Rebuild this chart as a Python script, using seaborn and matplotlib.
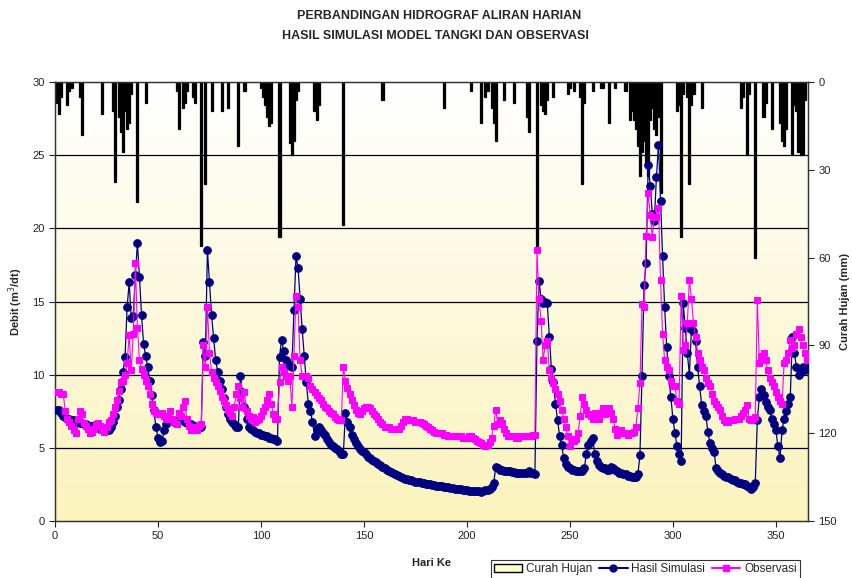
import numpy as np
import pandas as pd
import matplotlib
matplotlib.use("Agg")
import matplotlib.pyplot as plt
from matplotlib.patches import Patch
from matplotlib.lines import Line2D
from matplotlib.colors import LinearSegmentedColormap
import seaborn as sns

# --- values (day 1..365) ---
sim = [
    7.6, 7.6, 7.4, 7.2, 7.1, 7.0, 7.0, 6.9, 6.9, 6.8,
    6.8, 6.7, 6.7, 6.6, 6.6, 6.5, 6.5, 6.5, 6.4, 6.4,
    6.4, 6.3, 6.3, 6.3, 6.2, 6.2, 6.4, 6.8, 7.2, 7.8,
    8.3, 9.0, 10.2, 11.2, 14.6, 16.3, 13.9, 14.0, 16.8, 19.0,
    16.7, 14.1, 12.1, 11.3, 10.5, 9.6, 8.6, 7.6, 6.4, 5.7,
    5.4, 5.5, 6.2, 6.6, 6.9, 7.0, 6.9, 6.8, 6.8, 6.9,
    7.0, 6.9, 6.8, 6.7, 6.6, 6.6, 6.5, 6.5, 6.4, 6.4,
    6.4, 12.2, 11.3, 18.5, 16.3, 14.1, 12.5, 11.0, 10.2, 9.6,
    9.0, 8.4, 7.8, 7.3, 7.0, 6.8, 6.6, 6.4, 6.4, 9.9,
    8.8, 7.8, 7.0, 6.4, 6.3, 6.2, 6.1, 6.0, 6.0, 5.9,
    5.9, 5.8, 5.8, 5.7, 5.7, 5.6, 5.6, 5.5, 11.2, 12.4,
    11.6, 11.0, 10.7, 10.6, 10.5, 14.4, 18.1, 17.3, 15.2, 13.1,
    11.3, 9.5, 8.0, 7.5, 6.8, 5.8, 6.3, 6.4, 6.2, 6.0,
    5.9, 5.6, 5.4, 5.2, 5.1, 5.0, 4.9, 4.8, 4.6, 4.6,
    7.4, 6.8, 6.4, 5.9, 5.6, 5.3, 5.1, 4.9, 4.8, 4.7,
    4.6, 4.4, 4.3, 4.2, 4.1, 4.0, 3.9, 3.8, 3.7, 3.6,
    3.5, 3.4, 3.35, 3.3, 3.2, 3.15, 3.1, 3.0, 2.95, 2.9,
    2.85, 2.8, 2.78, 2.75, 2.7, 2.67, 2.64, 2.6, 2.57, 2.54,
    2.52, 2.5, 2.47, 2.45, 2.42, 2.4, 2.38, 2.36, 2.34, 2.32,
    2.3, 2.28, 2.25, 2.22, 2.2, 2.18, 2.16, 2.14, 2.12, 2.1,
    2.08, 2.06, 2.05, 2.04, 2.03, 2.02, 2.0, 2.05, 2.1, 2.15,
    2.2, 2.3, 2.6, 3.7, 3.6, 3.5, 3.5, 3.45, 3.4, 3.4,
    3.4, 3.35, 3.35, 3.3, 3.3, 3.3, 3.3, 3.25, 3.3, 3.4,
    3.3, 3.25, 3.2, 12.3, 16.4, 15.2, 14.9, 15.0, 14.9, 12.6,
    10.4, 9.5, 8.0, 6.9, 5.8, 5.2, 4.3, 3.9, 3.7, 3.6,
    3.5, 3.5, 3.4, 3.4, 3.4, 3.4, 3.6, 4.6, 5.2, 5.5,
    5.7, 4.6, 4.1, 3.8, 3.7, 3.6, 3.6, 3.5, 3.5, 3.7,
    3.6, 3.5, 3.4, 3.3, 3.3, 3.2, 3.2, 3.1, 3.1, 3.0,
    3.0, 3.0, 3.2, 4.5, 9.9, 16.1, 17.6, 24.3, 22.9, 21.0,
    20.5, 23.5, 25.7, 21.9, 18.1, 14.6, 11.9, 9.9, 8.5, 7.0,
    6.0, 5.1, 4.6, 4.1, 14.9, 13.2, 11.5, 10.0, 13.1, 13.0,
    12.3, 10.5, 9.2, 7.9, 7.5, 7.2, 6.1, 5.3, 5.0, 4.7,
    3.6, 3.4, 3.3, 3.2, 3.1, 3.0, 3.0, 2.9, 2.8, 2.8,
    2.7, 2.6, 2.6, 2.5, 2.5, 2.4, 2.3, 2.2, 2.3, 2.6,
    6.9, 8.5, 9.0, 8.6, 8.1, 7.8, 7.6, 7.0, 6.6, 6.2,
    5.1, 4.3, 6.2, 7.0, 7.5, 8.0, 8.5, 12.6, 11.5, 10.5,
    10.0, 10.2, 10.5, 10.3, 10.6,
]

obs = [
    8.8, 8.8, 8.7, 8.7, 7.5, 7.0, 6.8, 6.5, 6.2, 6.0,
    7.0, 7.5, 7.3, 6.7, 6.5, 6.3, 6.0, 6.1, 6.3, 6.6,
    6.7, 6.5, 6.2, 6.1, 6.4, 6.8, 6.9, 7.3, 7.8, 8.3,
    8.9, 9.5, 9.6, 10.0, 10.8, 12.7, 10.3, 12.8, 17.6, 13.2,
    11.0, 10.4, 10.0, 9.6, 9.2, 8.7, 8.0, 7.5, 7.4, 7.3,
    7.3, 7.4, 7.2, 7.0, 7.2, 7.5, 7.0, 6.8, 6.6, 7.4,
    7.2, 7.8, 8.2, 7.0, 6.5, 6.2, 6.4, 6.3, 6.2, 6.5,
    6.6, 12.0, 10.5, 14.6, 11.5, 10.2, 9.8, 9.5, 9.2, 8.9,
    8.5, 8.2, 7.9, 7.6, 7.4, 7.2, 7.8, 8.7, 9.2, 8.4,
    7.8, 8.8, 7.5, 7.2, 7.0, 7.1, 6.8, 6.9, 7.0, 7.2,
    7.5, 7.8, 8.3, 8.7, 8.0, 7.3, 7.0, 7.0, 9.5, 10.5,
    10.2, 9.9, 9.6, 9.9, 7.8, 11.3, 15.4, 14.6, 11.0, 9.9,
    9.9, 9.9, 9.8, 9.2, 9.0, 8.8, 8.6, 8.4, 8.3, 8.0,
    7.8, 7.7, 7.5, 7.4, 7.3, 7.1, 7.0, 6.9, 6.9, 10.5,
    9.6, 9.1, 8.7, 8.3, 7.9, 7.6, 7.4, 7.3, 7.5, 7.7,
    7.8, 7.8, 7.7, 7.5, 7.3, 7.2, 7.0, 6.8, 6.6, 6.4,
    6.4, 6.4, 6.3, 6.3, 6.3, 6.3, 6.3, 6.5, 6.8, 7.0,
    7.0, 6.9, 6.9, 6.9, 6.8, 6.8, 6.8, 6.7, 6.6, 6.5,
    6.4, 6.3, 6.2, 6.1, 6.0, 6.0, 6.0, 6.0, 5.9, 5.9,
    5.8, 5.8, 5.8, 5.8, 5.8, 5.8, 5.8, 5.7, 5.7, 5.7,
    5.8, 5.8, 5.7, 5.6, 5.5, 5.4, 5.3, 5.2, 5.1, 5.2,
    5.4, 5.7, 6.5, 7.6, 6.6, 6.9, 6.7, 6.3, 6.0, 5.8,
    5.8, 5.8, 5.8, 5.7, 5.7, 5.8, 5.8, 5.8, 5.8, 5.8,
    5.8, 5.9, 5.9, 18.5, 15.2, 13.7, 11.0, 12.0, 12.3, 10.3,
    9.8, 9.4, 9.0, 8.7, 8.2, 7.6, 7.0, 6.4, 5.8, 5.1,
    5.6, 5.5, 5.6, 6.0, 7.2, 8.5, 8.0, 7.6, 7.3, 7.2,
    7.0, 7.4, 7.2, 7.0, 7.4, 7.7, 7.3, 7.5, 7.7, 7.4,
    7.0, 6.3, 5.9, 6.0, 6.2, 6.0, 6.0, 5.9, 6.0, 6.0,
    6.1, 6.4, 7.7, 9.4, 14.8, 14.6, 19.5, 22.4, 20.9, 19.4,
    20.8, 20.8, 21.4, 16.5, 12.8, 11.0, 10.5, 10.3, 9.6, 9.2,
    9.2, 8.2, 8.0, 15.4, 11.7, 12.0, 13.5, 16.5, 15.2, 13.5,
    12.6, 11.5, 11.0, 10.5, 10.3, 9.8, 9.4, 9.2, 8.7, 8.2,
    8.0, 7.8, 7.6, 7.2, 6.9, 6.8, 6.8, 6.9, 6.9, 7.0,
    7.0, 7.0, 7.2, 7.4, 7.6, 7.9, 7.0, 6.9, 7.0, 7.1,
    15.1, 10.8, 11.3, 11.5, 11.0, 10.3, 9.8, 9.5, 9.2, 8.8,
    8.5, 8.2, 8.0, 10.8, 11.0, 11.5, 12.4, 11.8, 12.0, 12.8,
    13.1, 12.6, 12.0, 11.5, 11.0,
]

# rainfall (mm), only days with rain
rain_days = [1, 2, 3, 6, 7, 8, 12, 13, 23, 28, 29, 31, 32, 33, 34, 35, 36, 37,
             40, 44, 59, 60, 62, 63, 64, 67, 68, 71, 73, 76, 81, 84, 89, 92,
             100, 101, 102, 103, 104, 105, 109, 114, 115, 116, 117, 118,
             126, 127, 128, 140, 159, 189, 202, 207, 209, 210, 212, 213, 214,
             218, 223, 229, 230, 234, 236, 237, 238, 239, 242, 249, 250, 252,
             255, 256, 257, 261, 265, 266, 269, 272, 277,
             279, 280, 281, 282, 283, 284, 285, 286, 287, 288, 289, 290, 291,
             292, 293, 294, 302, 303, 304, 305, 307, 308, 309, 310, 314,
             333, 334, 336, 337, 340, 344, 345, 348, 352, 353, 354, 355,
             358, 359, 360, 361, 362, 363, 364]
rain_mm = [7, 11, 5, 8, 3, 2, 5, 18, 11, 10, 34, 12, 17, 24, 10, 16, 14, 4,
           41, 7, 3, 16, 9, 7, 3, 5, 7, 56, 35, 10, 10, 9, 22, 3,
           2, 5, 8, 12, 15, 14, 53, 21, 25, 20, 6, 3,
           10, 13, 8, 49, 6, 9, 3, 14, 5, 3, 9, 14, 20,
           6, 7, 12, 17, 56, 8, 10, 11, 6, 5, 4, 2, 3,
           5, 35, 7, 3, 2, 2, 14, 2, 3,
           13, 10, 13, 16, 22, 32, 24, 20, 28, 32, 13, 9, 16,
           18, 12, 38, 10, 8, 53, 4, 5, 35, 8, 4, 9,
           9, 5, 25, 4, 60, 12, 7, 16, 14, 20, 22, 16,
           25, 8, 10, 24, 25, 25, 6]

days = np.arange(1, len(sim) + 1)
df = pd.DataFrame({"day": days, "sim": sim, "obs": obs})

sns.set_style("ticks")
plt.rcParams["font.family"] = ["Liberation Sans", "DejaVu Sans"]

fig = plt.figure(figsize=(8.53, 5.78), dpi=100)
ax_r = fig.add_axes([0.0645, 0.0986, 0.8825, 0.7595])   # rain (back)
ax = ax_r.twinx()                                       # discharge (front)
ax.yaxis.set_label_position("left")
ax.yaxis.tick_left()
ax_r.yaxis.set_label_position("right")
ax_r.yaxis.tick_right()

# background gradient white -> pale yellow
grad = LinearSegmentedColormap.from_list("bg", ["#FFFFFF", "#FAF3BC"])
ax_r.imshow(np.linspace(0, 1, 256).reshape(-1, 1), cmap=grad, aspect="auto",
            extent=[0, 365.5, 150, 0], zorder=0, origin="upper")

ax_r.bar(rain_days, rain_mm, width=1.0, color="black", edgecolor="black",
         linewidth=0.9, zorder=1)
ax_r.set_ylim(150, 0)
ax_r.set_xlim(0, 365.5)
ax_r.set_yticks([0, 30, 60, 90, 120, 150])
ax_r.set_xticks(range(0, 351, 50))

ax.set_facecolor("none")
ax.set_ylim(0, 30)
ax.set_yticks(range(0, 31, 5))
for v in range(5, 30, 5):
    ax.axhline(v, color="black", linewidth=0.9, zorder=1)

sns.lineplot(data=df, x="day", y="sim", ax=ax, color="#000080", linewidth=0.9,
             marker="o", markersize=5.5, markeredgecolor="#000080", zorder=3)
sns.lineplot(data=df, x="day", y="obs", ax=ax, color="#FF00FF", linewidth=0.8,
             marker="s", markersize=5, markeredgecolor="#FF00FF", zorder=4)
ax.set_xlim(0, 365.5)
ax.set_xlabel("")

for a in (ax, ax_r):
    for s in a.spines.values():
        s.set_color("#333333")
        s.set_linewidth(0.9)
    a.tick_params(labelsize=8, colors="#222222", length=4, width=0.8, direction="out")

ax_r.set_xlabel("Hari Ke", fontsize=8, fontweight="bold", labelpad=12)
ax.set_ylabel("Debit (m$^3$/dt)", fontsize=8, fontweight="bold", labelpad=5)
ax_r.set_ylabel("Curah Hujan (mm)", fontsize=8, fontweight="bold", labelpad=2)

fig.text(0.515, 0.972, "PERBANDINGAN HIDROGRAF ALIRAN HARIAN", ha="center",
         va="center", fontsize=9, fontweight="bold")
fig.text(0.51, 0.938, "HASIL SIMULASI MODEL TANGKI DAN OBSERVASI", ha="center",
         va="center", fontsize=9, fontweight="bold")

handles = [
    Patch(facecolor="#FFFFCC", edgecolor="black", linewidth=1.0, label="Curah Hujan"),
    Line2D([], [], color="#000080", marker="o", markersize=5, label="Hasil Simulasi"),
    Line2D([], [], color="#FF00FF", marker="s", markersize=5, label="Observasi"),
]
leg = fig.legend(handles=handles, loc="lower right", bbox_to_anchor=(0.945, -0.012),
                 ncol=3, fontsize=8.5, frameon=True, fancybox=False, handlelength=2.4,
                 handletextpad=0.3, columnspacing=0.6, borderpad=0.3)
leg.get_frame().set_edgecolor("black")
leg.get_frame().set_linewidth(0.8)

fig.savefig("out.png", dpi=100)
